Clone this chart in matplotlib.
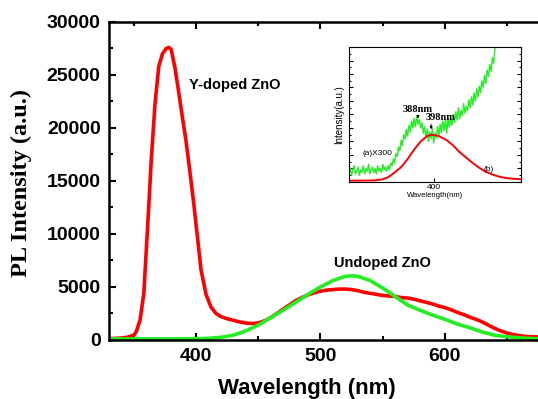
import numpy as np
import matplotlib
matplotlib.use('Agg')
import matplotlib.pyplot as plt
from matplotlib.ticker import MultipleLocator

# main spectra (wavelength nm, PL intensity a.u.)
red_wl = [330, 340, 345, 350, 352, 355, 358, 361, 364, 367, 370, 373, 376, 378, 380,
          383, 386, 389, 392, 395, 398, 401, 404, 408, 412, 416, 420, 425, 430, 435,
          440, 445, 450, 455, 460, 465, 470, 475, 480, 485, 490, 495, 500, 505, 510,
          515, 520, 525, 530, 535, 540, 545, 550, 555, 560, 565, 570, 575, 580, 585,
          590, 595, 600, 605, 610, 615, 620, 625, 630, 635, 640, 645, 650, 655, 660,
          665, 670, 676]
red_int = [120, 180, 260, 450, 800, 1900, 4400, 10600, 17000, 22300, 25800, 27000, 27500, 27600, 27400,
           25700, 23400, 21000, 18700, 15900, 13000, 9800, 6600, 4300, 3100, 2500, 2200, 2000, 1850, 1700,
           1600, 1550, 1600, 1800, 2100, 2500, 2900, 3300, 3700, 4000, 4250, 4450, 4600, 4700, 4750,
           4800, 4800, 4750, 4650, 4500, 4400, 4300, 4200, 4150, 4100, 4000, 3950, 3850, 3700, 3550,
           3400, 3200, 3050, 2850, 2600, 2400, 2150, 1950, 1700, 1400, 1100, 850, 650, 500, 400,
           330, 300, 280]

green_wl = [330, 350, 380, 400, 410, 420, 430, 440, 450, 460, 470, 480, 490, 500, 510,
            520, 525, 530, 540, 550, 560, 570, 580, 590, 600, 610, 620, 630, 640, 650,
            660, 670, 676]
green_int = [100, 100, 100, 120, 150, 250, 450, 850, 1400, 2100, 2800, 3550, 4300, 5000, 5600,
             6000, 6050, 6000, 5600, 4900, 4100, 3300, 2800, 2350, 1950, 1500, 1150, 750, 450, 300,
             200, 130, 100]

# inset: (a) undoped x300 (noisy), (b) Y-doped
inset_green_wl = np.arange(335, 448)
inset_green = [0.07, 0.10, 0.05, 0.09, 0.12, 0.06, 0.08, 0.11, 0.05, 0.09, 0.07, 0.12, 0.06, 0.10, 0.08,
               0.13, 0.06, 0.09, 0.11, 0.07, 0.10, 0.06, 0.12, 0.08, 0.10, 0.07, 0.13, 0.09, 0.11, 0.08,
               0.12, 0.09, 0.14,
               0.12, 0.17, 0.14, 0.21, 0.19, 0.26, 0.23, 0.31, 0.27, 0.35, 0.32,
               0.39, 0.34, 0.42, 0.37, 0.45, 0.40, 0.47, 0.41, 0.49, 0.43, 0.46, 0.40,
               0.44, 0.36, 0.41, 0.33, 0.39, 0.30, 0.37, 0.32, 0.40, 0.29, 0.36, 0.33,
               0.41, 0.34, 0.43, 0.37, 0.45, 0.38, 0.46, 0.36, 0.48, 0.41, 0.47, 0.42, 0.50,
               0.44, 0.52, 0.46, 0.55, 0.47, 0.53, 0.49, 0.58, 0.51, 0.56, 0.53, 0.61, 0.55, 0.63, 0.57,
               0.66, 0.60, 0.69, 0.63, 0.71, 0.66, 0.75, 0.70, 0.79, 0.73, 0.83, 0.78, 0.87, 0.82, 0.92,
               0.88, 0.99]
inset_red_wl = [335, 345, 355, 360, 365, 370, 375, 380, 385, 390, 395, 398, 402, 405, 410,
                415, 420, 425, 430, 435, 440, 445, 450, 455, 460, 467]
inset_red = [0.01, 0.01, 0.012, 0.018, 0.035, 0.07, 0.11, 0.17, 0.24, 0.30, 0.34, 0.35, 0.345, 0.335, 0.31,
             0.27, 0.22, 0.18, 0.14, 0.105, 0.076, 0.055, 0.04, 0.03, 0.025, 0.02]

RED = '#ff0000'
GREEN = '#22ee22'
sans = 'Liberation Sans'
serif = 'Liberation Serif'

fig = plt.figure(figsize=(5.38, 3.99), dpi=100)
ax = fig.add_axes([0.2026, 0.148, 0.8, 0.797])
ax.plot(red_wl, red_int, color=RED, lw=2.6)
ax.plot(green_wl, green_int, color=GREEN, lw=2.6)
ax.set_xlim(330, 676)
ax.set_ylim(0, 30000)
ax.xaxis.set_major_locator(MultipleLocator(100))
ax.xaxis.set_minor_locator(MultipleLocator(50))
ax.yaxis.set_major_locator(MultipleLocator(5000))
ax.yaxis.set_minor_locator(MultipleLocator(2500))
ax.tick_params(which='both', direction='in', top=True, width=1.5)
ax.tick_params(which='major', length=5, pad=6)
ax.tick_params(which='minor', length=3)
ax.spines['right'].set_visible(False)
for s in ['left', 'bottom', 'top']:
    ax.spines[s].set_linewidth(1.8)
for lab in ax.get_xticklabels() + ax.get_yticklabels():
    lab.set_fontfamily(sans)
    lab.set_fontweight('bold')
    lab.set_fontsize(14)
ax.set_xlabel('Wavelength (nm)', fontfamily=sans, fontweight='bold', fontsize=16)
ax.xaxis.set_label_coords(0.46, -0.12)
ax.set_ylabel('PL Intensity (a.u.)', fontfamily=serif, fontweight='bold', fontsize=17.5)
ax.yaxis.set_label_coords(-0.18, 0.494)
ax.text(394, 24050, 'Y-doped ZnO', fontfamily=sans, fontweight='bold', fontsize=10.5, va='center')
ax.text(511, 7260, 'Undoped ZnO', fontfamily=sans, fontweight='bold', fontsize=10.5, va='center')

# inset
ins = fig.add_axes([0.6487, 0.5439, 0.3197, 0.3383])
ins.plot(inset_green_wl, inset_green, color=GREEN, lw=1.0)
ins.plot(inset_red_wl, inset_red, color=RED, lw=1.4)
ins.set_xlim(335, 467)
ins.set_ylim(0, 1.0)
ins.xaxis.set_major_locator(MultipleLocator(100))
ins.yaxis.set_major_locator(MultipleLocator(0.1))
ins.yaxis.set_minor_locator(MultipleLocator(0.05))
ins.set_yticklabels([])
ins.tick_params(which='both', direction='in', right=True, width=0.8, labelsize=6, pad=1.5)
ins.tick_params(which='major', length=3)
ins.tick_params(which='minor', length=1.5)
for s in ins.spines.values():
    s.set_linewidth(0.8)
for lab in ins.get_xticklabels():
    lab.set_fontfamily(sans)
ins.set_xlabel('Wavelength(nm)', fontfamily=sans, fontsize=5.5, labelpad=1)
ins.set_ylabel('Intensity(a.u.)', fontfamily=sans, fontsize=7, labelpad=2)
ins.text(388, 0.54, '388nm', ha='center', va='center',
         fontfamily=serif, fontweight='bold', fontsize=7.5)
ins.annotate('', xy=(388, 0.45), xytext=(388, 0.51),
             arrowprops=dict(arrowstyle='-|>', color='black', lw=0.6, mutation_scale=4))
ins.text(405, 0.48, '398nm', ha='center', va='center',
         fontfamily=serif, fontweight='bold', fontsize=7.5)
ins.annotate('', xy=(398, 0.37), xytext=(398, 0.45),
             arrowprops=dict(arrowstyle='-|>', color='black', lw=0.6, mutation_scale=4))
ins.text(345, 0.21, '(a)X300', fontfamily=sans, fontsize=6, va='center')
ins.text(438, 0.09, '(b)', fontfamily=sans, fontsize=6, va='center')

fig.savefig('out.png', dpi=100)
